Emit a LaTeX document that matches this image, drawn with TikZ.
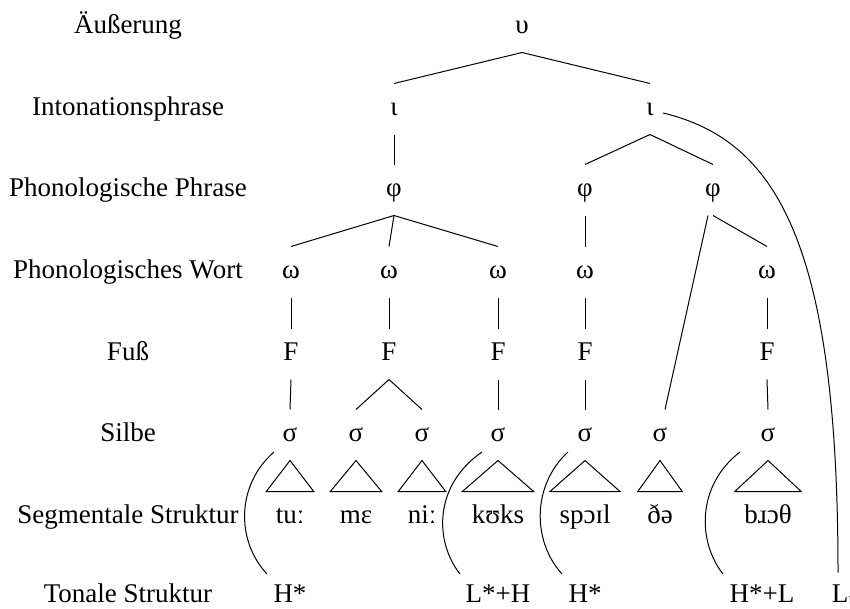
\documentclass[tikz,border=0pt]{standalone}
\usepackage{fontspec}
\setmainfont{Liberation Serif}

\begin{document}
\begin{tikzpicture}[x=1pt,y=-1pt,line width=1pt,
    every node/.style={font=\fontsize{27}{32}\selectfont, inner sep=0pt,
        minimum height=50pt, text height=19pt, text depth=6pt},
    seg/.style={inner xsep=9pt},
    tone/.style={minimum height=0pt, text depth=0pt}]

    \useasboundingbox (0,0) rectangle (850,608);

    % Ebenen
    \node (lU) at (128,27) {Äußerung};
    \node (lI) at (128,109) {Intonationsphrase};
    \node (lP) at (128,190) {Phonologische Phrase};
    \node (lW) at (128,272) {Phonologisches Wort};
    \node (lF) at (128,354) {Fuß};
    \node (lS) at (128,435) {Silbe};
    \node (lG) at (128,517) {Segmentale Struktur};
    \node[tone] (lT) at (128,592.5) {Tonale Struktur};

    \node (u) at (522,27) {υ};
    \node (iL) at (394,109) {ι};
    \node (iR) at (650,109) {ι};
    \node (pA) at (394,190) {φ};
    \node (pB) at (585,190) {φ};
    \node (pC) at (713,190) {φ};

    \foreach \n/\x in {A/291,B/389,C/498,D/585,E/767} {
        \node (w\n) at (\x,272) {ω};
        \node (f\n) at (\x,354) {F};
        \draw (w\n.south) -- (f\n.north);
    }

    \foreach \n/\x/\t in {A/290/tuː,B/356/mɛ,C/422/niː,D/498/kʊks,E/585/spɔɪl,F/660/ðə,G/768/bɹɔθ} {
        \node (s\n) at (\x,435) {σ};
        \node[seg] (g\n) at (\x,517) {\t};
        \draw (s\n.south) -- (g\n.north west) -- (g\n.north east) -- cycle;
    }

    % Töne
    \node[tone] (tA) at (290,592.5) {H*};
    \node[tone] (tD) at (498,592.5) {L*+H};
    \node[tone] (tE) at (585,592.5) {H*};
    \node[tone] (tG) at (762,592.5) {H*+L};
    \node[tone] (tL) at (843,592.5) {L\textsubscript{ι}};

    \draw (u.south) -- (iL.north);
    \draw (u.south) -- (iR.north);
    \draw (iL.south) -- (pA.north);
    \draw (iR.south) -- (pB.north);
    \draw (iR.south) -- (pC.north);
    \foreach \n in {A,B,C}
        \draw (pA.south) -- (w\n.north);
    \draw (pB.south) -- (wD.north);
    \draw (pC.south) -- (wE.north);
    \draw ([xshift=-5pt]pC.south) -- ([xshift=5pt]sF.north);
    \draw (fA.south) -- (sA.north);
    \draw (fB.south) -- (sB.north);
    \draw (fB.south) -- (sC.north);
    \draw (fC.south) -- (sD.north);
    \draw (fD.south) -- (sE.north);
    \draw (fE.south) -- (sG.north);

    % Klammern
    \foreach \xt/\xb/\xc in {274/267/236, 482/460/434, 568/562/532, 740/723/697}
        \draw (\xt,452) .. controls (\xc,485) and (\xc,541) .. (\xb,574);
    \draw ([xshift=9pt,yshift=-4pt]iR.east) .. controls (775,140) and (838,240) .. ([xshift=-5pt,yshift=10pt]tL.north);
\end{tikzpicture}
\end{document}
